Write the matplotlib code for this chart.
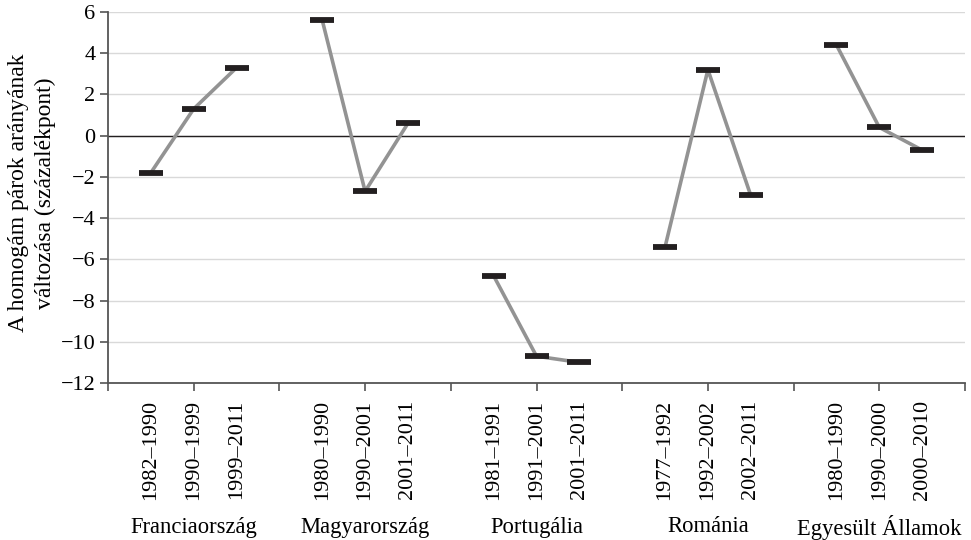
import matplotlib
matplotlib.use("Agg")
import matplotlib.pyplot as plt
from matplotlib.transforms import blended_transform_factory

countries = ["Franciaország", "Magyarország", "Portugália", "Románia", "Egyesült Államok"]
periods = [
    ["1982–1990", "1990–1999", "1999–2011"],
    ["1980–1990", "1990–2001", "2001–2011"],
    ["1981–1991", "1991–2001", "2001–2011"],
    ["1977–1992", "1992–2002", "2002–2011"],
    ["1980–1990", "1990–2000", "2000–2010"],
]
values = [
    [-1.8, 1.3, 3.3],
    [5.6, -2.7, 0.6],
    [-6.8, -10.7, -11.0],
    [-5.4, 3.2, -2.9],
    [4.4, 0.4, -0.7],
]
y_ticks = [-12, -10, -8, -6, -4, -2, 0, 2, 4, 6]

plt.rcParams['font.family'] = ['Liberation Serif', 'DejaVu Serif']
fig = plt.figure(figsize=(9.71, 5.4), dpi=100)
ax = fig.add_axes([108/971, 1-383/540, (965-108)/971, (383-12)/540])

xpos_all, labels_all = [], []
for g, (vals, pers) in enumerate(zip(values, periods)):
    xs = [g*4 + 1 + i for i in range(len(vals))]
    ax.plot(xs, vals, color='#939393', lw=2.6, zorder=3, solid_capstyle='butt')
    ax.plot(xs, vals, ls='none', marker='_', ms=17.5, mew=4.2, color='#231f20', zorder=4)
    xpos_all += xs
    labels_all += pers

ax.set_xlim(0, 4*len(values))
ax.set_ylim(-12, 6)
ax.set_yticks(y_ticks)
ax.set_yticklabels([f"{t:g}".replace('-', '−') for t in y_ticks], fontsize=16)
ax.grid(axis='y', color='#d9d9d9', lw=1)
ax.axhline(0, color='#231f20', lw=1, zorder=2)
ax.set_axisbelow(True)

ax.xaxis.remove_overlapping_locs = False
ax.set_xticks(list(range(0, 4*len(values)+1, 2)))
ax.set_xticklabels([])
ax.set_xticks(xpos_all, minor=True)
ax.set_xticklabels(labels_all, minor=True, rotation=90, fontsize=16)
ax.tick_params(axis='x', which='major', length=6, width=1.2, color='#555555', direction='out')
ax.tick_params(axis='x', which='minor', length=0, pad=12)
ax.tick_params(axis='y', length=6, width=1.2, color='#555555', pad=3)

for s in ['top', 'right']:
    ax.spines[s].set_visible(False)
for s in ['left', 'bottom']:
    ax.spines[s].set_color('#555555')
    ax.spines[s].set_linewidth(1.3)

trans = blended_transform_factory(ax.transData, fig.transFigure)
for g, c in enumerate(countries):
    ax.text(g*4 + 2, 1-527/540, c, transform=trans, ha='center', va='center', fontsize=16.3)

fig.text(32/971, 1-193/540, "A homogám párok arányának\nváltozása (százalékpont)",
         rotation=90, ha='center', va='center', fontsize=17, linespacing=1.3)

fig.savefig("out.png", dpi=100)
